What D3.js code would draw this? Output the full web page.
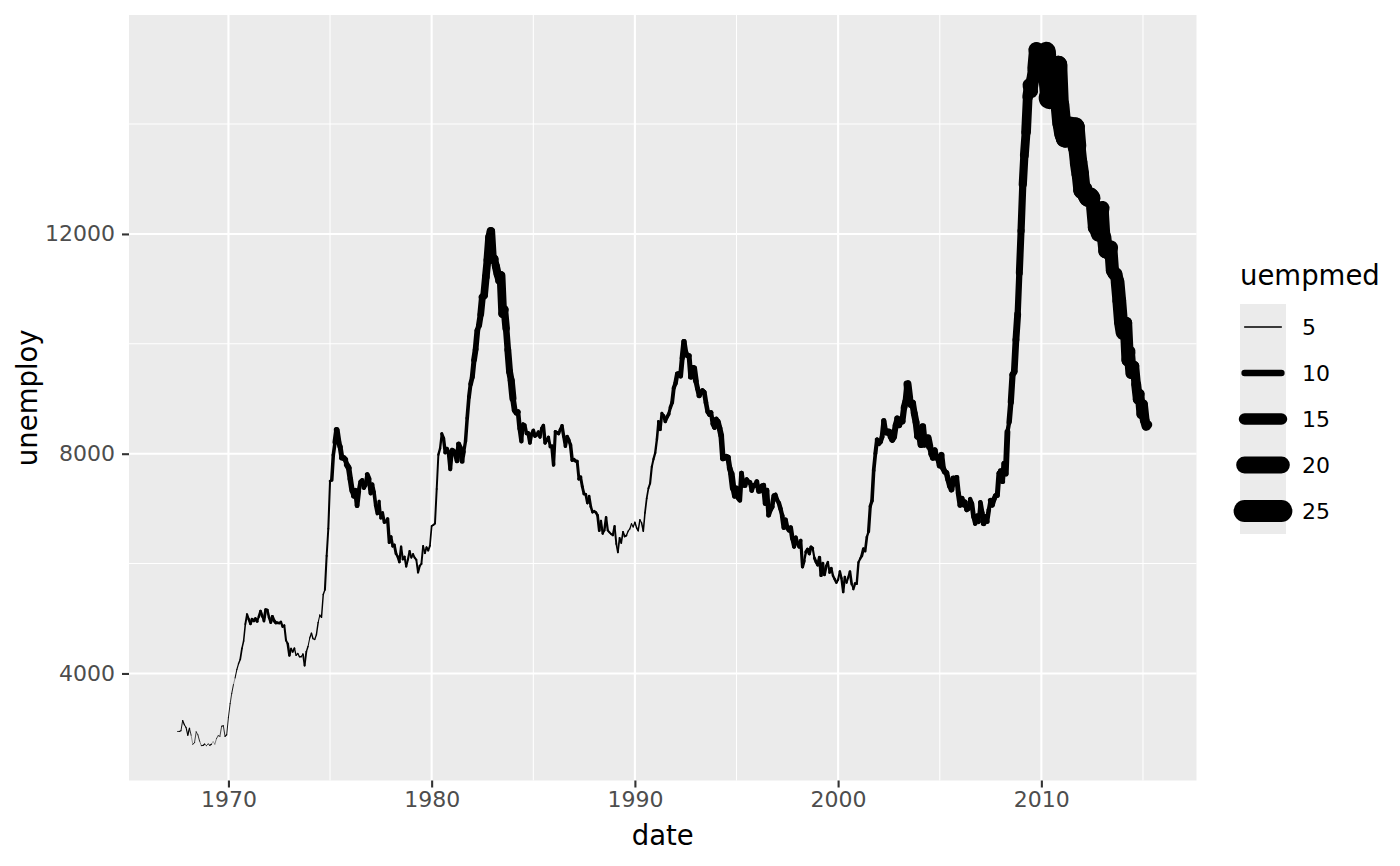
<!DOCTYPE html>
<html>
<head>
<meta charset="utf-8">
<script src="https://cdn.jsdelivr.net/npm/d3@7"></script>
<style>
  body { margin: 0; background: #ffffff; }
  svg { display: block; font-family: "DejaVu Sans", sans-serif; }
</style>
</head>
<body>
<svg id="svg1" width="1400" height="866"></svg>
<script>
// monthly series, 1967-07 .. 2015-04 (one row per year)
var unemploy = [
  2944, 2945, 2958, 3143, 3066, 3018,
  2878, 3001, 2877, 2709, 2740, 2938, 2883, 2768, 2686, 2689, 2715, 2685,
  2718, 2692, 2712, 2758, 2713, 2816, 2868, 2856, 3040, 3049, 2856, 2884,
  3201, 3453, 3635, 3797, 3919, 4071, 4175, 4256, 4456, 4591, 4898, 5076,
  4986, 4903, 4987, 4959, 4996, 4949, 5035, 5134, 5042, 4954, 5161, 5154,
  5019, 4928, 5038, 4959, 4922, 4923, 4913, 4939, 4849, 4875, 4602, 4543,
  4326, 4452, 4394, 4459, 4329, 4363, 4305, 4305, 4350, 4144, 4396, 4489,
  4644, 4731, 4634, 4618, 4705, 4927, 5063, 5022, 5437, 5523, 6140, 6636,
  7501, 7520, 7978, 8210, 8433, 8220, 8127, 7928, 7923, 7897, 7794, 7744,
  7534, 7326, 7230, 7330, 7053, 7322, 7490, 7518, 7380, 7430, 7620, 7545,
  7280, 7443, 7307, 7059, 6911, 7134, 6829, 6925, 6751, 6763, 6815, 6386,
  6489, 6318, 6337, 6180, 6127, 6028, 6309, 6080, 6125, 5947, 6077, 6228,
  6109, 6173, 6109, 6069, 5840, 5959, 5996, 6320, 6190, 6296, 6238, 6325,
  6683, 6702, 6729, 7358, 7984, 8098, 8363, 8281, 8021, 8088, 8023, 7718,
  8071, 8051, 7982, 7869, 8174, 8098, 7863, 8036, 8230, 8646, 9029, 9267,
  9397, 9705, 9895, 10244, 10335, 10538, 10849, 10881, 11217, 11529, 11938, 12051,
  11534, 11545, 11408, 11268, 11154, 11246, 10548, 10623, 10282, 9887, 9499, 9331,
  9008, 8791, 8746, 8762, 8456, 8226, 8537, 8519, 8367, 8381, 8198, 8358,
  8423, 8321, 8339, 8395, 8302, 8460, 8513, 8196, 8248, 8298, 8128, 8138,
  7795, 8402, 8383, 8364, 8439, 8508, 8319, 8135, 8310, 8243, 8159, 7883,
  7892, 7865, 7862, 7542, 7574, 7398, 7268, 7261, 7102, 7227, 7035, 6936,
  6953, 6929, 6876, 6601, 6779, 6546, 6605, 6843, 6604, 6568, 6537, 6518,
  6682, 6359, 6205, 6468, 6375, 6577, 6495, 6511, 6590, 6630, 6725, 6667,
  6752, 6651, 6598, 6797, 6742, 6590, 6922, 7188, 7368, 7459, 7764, 7901,
  8015, 8265, 8586, 8439, 8736, 8692, 8586, 8666, 8722, 8842, 8931, 9198,
  9283, 9454, 9460, 9415, 9744, 10040, 9850, 9787, 9781, 9398, 9565, 9557,
  9325, 9183, 9056, 9110, 9149, 9121, 8930, 8763, 8714, 8750, 8542, 8477,
  8630, 8583, 8470, 8331, 7915, 7927, 7946, 7933, 7734, 7632, 7375, 7230,
  7375, 7187, 7153, 7645, 7430, 7427, 7527, 7484, 7478, 7328, 7426, 7423,
  7491, 7313, 7318, 7415, 7423, 7095, 7337, 6882, 6979, 7031, 7236, 7253,
  7158, 7102, 7000, 6873, 6655, 6799, 6655, 6608, 6656, 6454, 6308, 6476,
  6368, 6306, 6422, 5941, 6047, 6212, 6259, 6179, 6300, 6280, 6100, 6032,
  5976, 6111, 5783, 6004, 5796, 5951, 6025, 5838, 5915, 5778, 5716, 5653,
  5708, 5858, 5733, 5481, 5758, 5651, 5747, 5853, 5625, 5534, 5639, 5634,
  6023, 6089, 6141, 6271, 6226, 6484, 6583, 7042, 7142, 7694, 8003, 8258,
  8182, 8215, 8304, 8599, 8399, 8393, 8390, 8304, 8251, 8307, 8520, 8640,
  8520, 8618, 8588, 8842, 8957, 9266, 9011, 8896, 8921, 8732, 8576, 8317,
  8370, 8167, 8491, 8170, 8212, 8286, 8136, 7990, 7927, 8061, 7932, 7934,
  7784, 7980, 7737, 7672, 7651, 7524, 7406, 7345, 7553, 7453, 7566, 7279,
  7064, 7184, 7072, 7120, 6980, 7001, 7175, 7091, 6847, 6727, 6872, 6762,
  7116, 6927, 6731, 6850, 6766, 6979, 7149, 7067, 7170, 7237, 7240, 7645,
  7685, 7497, 7822, 7637, 8395, 8575, 8937, 9438, 9494, 10074, 10538, 11286,
  12058, 12898, 13426, 13853, 14499, 14707, 14601, 14814, 15009, 15352, 15219, 15098,
  15046, 15113, 15202, 15325, 14849, 14474, 14512, 14648, 14579, 14516, 15081, 14348,
  14013, 13820, 13737, 13957, 13855, 13962, 13763, 13818, 13948, 13594, 13302, 13093,
  12797, 12813, 12713, 12646, 12660, 12692, 12656, 12471, 12115, 12124, 12005, 12298,
  12471, 11950, 11689, 11760, 11654, 11751, 11335, 11279, 11270, 11136, 10787, 10404,
  10202, 10349, 10380, 9702, 9859, 9460, 9608, 9599, 9262, 8990, 9090, 8717,
  8903, 8610, 8504, 8526
];

var uempmed = [
  4.5, 4.7, 4.6, 4.9, 4.7, 4.8,
  5.1, 4.5, 4.1, 4.6, 4.4, 4.4, 4.5, 4.2, 4.6, 4.8, 4.4, 4.4,
  4.4, 4.9, 4.0, 4.0, 4.2, 4.4, 4.4, 4.4, 4.7, 4.5, 4.8, 4.6,
  4.6, 4.5, 4.6, 4.1, 4.7, 4.9, 5.1, 5.4, 5.2, 5.2, 5.6, 5.9,
  6.2, 6.3, 6.4, 6.5, 6.7, 5.7, 6.2, 6.4, 5.8, 6.5, 6.4, 6.2,
  6.2, 6.6, 6.6, 6.7, 6.6, 5.4, 6.1, 6.0, 5.6, 5.7, 5.7, 6.1,
  5.7, 5.2, 5.5, 5.0, 4.9, 5.0, 5.2, 4.9, 5.4, 5.5, 5.1, 4.7,
  5.0, 5.1, 4.8, 5.0, 5.1, 4.7, 5.0, 5.1, 5.1, 5.7, 5.6, 5.7,
  6.3, 7.1, 7.2, 8.7, 9.4, 8.8, 8.6, 9.2, 9.2, 8.6, 9.5, 9.0,
  9.0, 8.2, 8.7, 8.2, 8.3, 7.8, 7.7, 7.9, 7.8, 7.7, 8.4, 8.0,
  7.5, 7.2, 7.2, 7.3, 6.7, 6.5, 6.6, 6.8, 6.6, 6.8, 6.9, 6.6,
  6.5, 6.5, 6.5, 6.0, 6.2, 6.0, 5.8, 6.1, 5.7, 5.8, 5.8, 5.7,
  5.5, 5.6, 5.7, 5.6, 5.9, 5.6, 5.6, 5.4, 5.6, 5.6, 5.6, 5.4,
  5.4, 5.5, 5.6, 5.6, 6.0, 6.0, 6.9, 7.0, 7.5, 7.7, 7.5, 7.5,
  7.7, 8.2, 8.0, 8.3, 8.6, 8.5, 7.7, 6.9, 7.1, 7.3, 7.6, 8.3,
  8.6, 9.3, 9.3, 8.9, 9.6, 10.3, 10.8, 11.1, 11.2, 11.5, 11.5, 11.9,
  12.0, 11.2, 11.6, 11.3, 11.4, 12.2, 12.1, 11.0, 10.1, 10.4, 10.3, 10.6,
  9.3, 8.9, 9.0, 8.2, 7.9, 7.4, 7.2, 7.2, 7.1, 7.3, 7.1, 7.0,
  7.3, 7.2, 6.8, 6.8, 6.9, 6.9, 7.1, 6.9, 6.9, 6.6, 6.9, 7.1,
  6.7, 6.9, 6.8, 6.7, 6.8, 7.0, 6.9, 7.1, 7.4, 7.0, 7.1, 7.1,
  6.9, 6.6, 6.6, 7.1, 6.6, 6.5, 6.5, 6.4, 6.0, 6.3, 6.2, 6.0,
  6.2, 6.3, 6.4, 5.9, 5.9, 5.8, 6.1, 5.9, 5.7, 5.6, 5.7, 5.9,
  5.6, 5.4, 5.4, 5.4, 5.3, 5.4, 5.6, 5.0, 4.9, 4.9, 4.8, 4.9,
  5.1, 5.3, 5.1, 4.8, 5.2, 5.2, 5.4, 5.4, 5.6, 5.8, 5.7, 5.9,
  6.0, 6.2, 6.7, 6.6, 6.4, 6.9, 7.0, 7.3, 6.8, 7.2, 7.5, 7.8,
  8.1, 8.2, 8.3, 8.5, 8.8, 8.7, 8.6, 8.8, 8.6, 9.0, 9.0, 9.3,
  8.6, 8.5, 8.5, 8.4, 8.1, 8.3, 8.2, 8.2, 8.3, 8.0, 8.3, 8.3,
  8.6, 9.2, 9.3, 9.1, 9.2, 9.3, 9.0, 8.9, 9.2, 10.0, 9.0, 8.7,
  8.0, 8.1, 8.3, 8.3, 9.1, 7.9, 8.5, 8.3, 7.9, 8.2, 8.0, 8.3,
  8.3, 7.8, 8.3, 8.6, 8.6, 8.3, 8.3, 8.4, 8.5, 8.3, 7.7, 7.8,
  7.8, 8.1, 7.9, 8.3, 8.0, 8.0, 8.3, 7.8, 8.2, 7.7, 7.6, 7.5,
  7.4, 7.0, 6.8, 6.7, 6.0, 6.9, 6.7, 6.8, 6.7, 5.8, 6.6, 6.8,
  6.9, 6.8, 6.8, 6.2, 6.5, 6.3, 5.8, 6.5, 6.0, 6.1, 6.2, 5.8,
  5.8, 6.1, 6.0, 6.1, 5.8, 5.7, 6.0, 6.3, 5.2, 6.1, 6.1, 6.0,
  5.8, 6.1, 6.6, 5.9, 6.3, 6.0, 6.8, 6.9, 7.2, 7.3, 7.7, 8.2,
  8.4, 8.3, 8.4, 8.9, 9.5, 11.0, 8.9, 9.0, 9.5, 9.6, 9.3, 9.6,
  9.6, 9.5, 9.7, 10.2, 9.9, 11.5, 10.3, 10.1, 10.2, 10.4, 10.3, 10.4,
  10.6, 10.2, 10.2, 9.5, 9.9, 11.0, 8.9, 9.2, 9.6, 9.5, 9.7, 9.5,
  9.4, 9.2, 9.3, 9.0, 9.1, 9.0, 8.8, 9.2, 8.4, 8.6, 8.5, 8.7,
  8.6, 9.1, 8.7, 8.4, 8.5, 7.3, 8.0, 8.4, 8.0, 7.9, 8.3, 7.5,
  8.3, 8.5, 9.1, 8.6, 8.2, 7.7, 8.7, 8.8, 8.7, 8.4, 8.6, 8.4,
  9.0, 8.7, 8.7, 9.4, 7.9, 9.0, 9.7, 9.7, 10.2, 10.4, 9.8, 10.5,
  10.7, 11.7, 12.3, 13.1, 14.2, 17.2, 16.0, 16.3, 17.8, 18.9, 19.8, 20.1,
  20.0, 19.9, 20.4, 22.1, 22.3, 25.2, 22.3, 21.0, 20.3, 21.2, 21.0, 21.9,
  21.5, 21.1, 21.5, 20.9, 21.6, 22.4, 22.0, 22.4, 22.0, 20.6, 20.8, 20.5,
  20.8, 19.7, 19.2, 19.1, 19.9, 20.1, 17.5, 18.5, 18.8, 19.7, 18.5, 17.6,
  15.9, 17.7, 18.0, 17.3, 17.8, 16.5, 16.5, 16.4, 16.3, 17.0, 17.1, 17.3,
  15.4, 15.9, 15.8, 15.7, 14.6, 13.8, 13.1, 12.9, 13.4, 13.6, 13.0, 12.9,
  13.2, 12.9, 12.0, 11.5
];

var xMajorYears = [1970, 1980, 1990, 2000, 2010];
var xMinorYears = [1965, 1975, 1985, 1995, 2005, 2015];
var yMajorTicks = [4000, 8000, 12000];
var yMinorTicks = [2000, 6000, 10000, 14000, 16000];
var legendBreaks = [5, 10, 15, 20, 25];

// months from 1967-07 to 2015-04
var dates = d3.utcMonth.range(new Date(Date.UTC(1967, 6, 1)), new Date(Date.UTC(2015, 4, 1)));

var data = dates.map(function(d, i) {
    return {date: d, unemploy: unemploy[i], uempmed: uempmed[i]};
});

var panelLeft = 129, panelRight = 1196.5, panelTop = 15, panelBottom = 780.5;

var svg = d3.select('#svg1');

// ggplot style 5% expansion
function expand(ext) {
    var pad = (ext[1] - ext[0]) * 0.05;
    return [ext[0] - pad, ext[1] + pad];
}

var xExt = d3.extent(dates, function(d) { return +d; });
var xScale = d3.scaleUtc()
    .domain(expand(xExt).map(function(v) { return new Date(v); }))
    .range([panelLeft, panelRight]);

var yScale = d3.scaleLinear()
    .domain(expand(d3.extent(unemploy)))
    .range([panelBottom, panelTop]);

var widthScale = d3.scaleLinear()
    .domain(d3.extent(uempmed))
    .range([0.3, 22.2]);

function yearDate(y) { return new Date(Date.UTC(y, 0, 1)); }

// panel background
svg.append('rect')
    .attr('x', panelLeft)
    .attr('y', panelTop)
    .attr('width', panelRight - panelLeft)
    .attr('height', panelBottom - panelTop)
    .attr('fill', '#ebebeb');

var grid = svg.append('g');

function inX(y) { var v = xScale(yearDate(y)); return v >= panelLeft && v <= panelRight; }
function inY(t) { var v = yScale(t); return v >= panelTop && v <= panelBottom; }

// minor grid
grid.selectAll('.xminor')
    .data(xMinorYears.filter(inX))
    .enter().append('line')
    .attr('x1', function(d) { return xScale(yearDate(d)); })
    .attr('x2', function(d) { return xScale(yearDate(d)); })
    .attr('y1', panelTop).attr('y2', panelBottom)
    .attr('stroke', 'white').attr('stroke-width', 1.05);

grid.selectAll('.yminor')
    .data(yMinorTicks.filter(inY))
    .enter().append('line')
    .attr('y1', function(d) { return yScale(d); })
    .attr('y2', function(d) { return yScale(d); })
    .attr('x1', panelLeft).attr('x2', panelRight)
    .attr('stroke', 'white').attr('stroke-width', 1.05);

// major grid
grid.selectAll('.xmajor')
    .data(xMajorYears)
    .enter().append('line')
    .attr('x1', function(d) { return xScale(yearDate(d)); })
    .attr('x2', function(d) { return xScale(yearDate(d)); })
    .attr('y1', panelTop).attr('y2', panelBottom)
    .attr('stroke', 'white').attr('stroke-width', 2.1);

grid.selectAll('.ymajor')
    .data(yMajorTicks)
    .enter().append('line')
    .attr('y1', function(d) { return yScale(d); })
    .attr('y2', function(d) { return yScale(d); })
    .attr('x1', panelLeft).attr('x2', panelRight)
    .attr('stroke', 'white').attr('stroke-width', 2.1);

// the line, drawn segment by segment so the width can vary
svg.append('g')
    .selectAll('line')
    .data(d3.pairs(data))
    .enter().append('line')
    .attr('x1', function(p) { return xScale(p[0].date); })
    .attr('y1', function(p) { return yScale(p[0].unemploy); })
    .attr('x2', function(p) { return xScale(p[1].date); })
    .attr('y2', function(p) { return yScale(p[1].unemploy); })
    .attr('stroke', 'black')
    .attr('stroke-linecap', 'round')
    .attr('stroke-width', function(p) { return widthScale(p[0].uempmed); });

// axes
var xAxis = d3.axisBottom(xScale)
    .tickValues(xMajorYears.map(yearDate))
    .tickFormat(d3.utcFormat('%Y'))
    .tickSize(7)
    .tickPadding(4);

var gx = svg.append('g')
    .attr('transform', 'translate(0,' + panelBottom + ')')
    .call(xAxis);
gx.select('.domain').remove();
gx.selectAll('line').attr('stroke', '#333333').attr('stroke-width', 2.1);
gx.selectAll('text')
    .attr('fill', '#4d4d4d')
    .style('font-size', '22px')
    .style('font-family', '"DejaVu Sans", sans-serif');

var yAxis = d3.axisLeft(yScale)
    .tickValues(yMajorTicks)
    .tickFormat(d3.format('d'))
    .tickSize(7)
    .tickPadding(7);

var gy = svg.append('g')
    .attr('transform', 'translate(' + panelLeft + ',0)')
    .call(yAxis);
gy.select('.domain').remove();
gy.selectAll('line').attr('stroke', '#333333').attr('stroke-width', 2.1);
gy.selectAll('text')
    .attr('fill', '#4d4d4d')
    .style('font-size', '22px')
    .style('font-family', '"DejaVu Sans", sans-serif');

// axis titles
svg.append('text')
    .attr('x', (panelLeft + panelRight) / 2)
    .attr('y', 845)
    .attr('text-anchor', 'middle')
    .style('font-size', '27.5px')
    .text('date');

svg.append('text')
    .attr('transform', 'translate(37,' + ((panelTop + panelBottom) / 2) + ') rotate(-90)')
    .attr('text-anchor', 'middle')
    .style('font-size', '27.5px')
    .text('unemploy');

// legend
var legend = svg.append('g').attr('transform', 'translate(1240,0)');

legend.append('text')
    .attr('x', 0)
    .attr('y', 285)
    .style('font-size', '27.5px')
    .text('uempmed');

var keyTop = 304, keyH = 46, keyW = 46;

legend.append('rect')
    .attr('x', 0).attr('y', keyTop)
    .attr('width', keyW).attr('height', keyH * legendBreaks.length)
    .attr('fill', '#ebebeb');

var keys = legend.selectAll('.key')
    .data(legendBreaks)
    .enter().append('g')
    .attr('transform', function(d, i) { return 'translate(0,' + (keyTop + keyH * i + keyH / 2) + ')'; });

keys.append('line')
    .attr('x1', keyW * 0.1).attr('x2', keyW * 0.9)
    .attr('y1', 0).attr('y2', 0)
    .attr('stroke', 'black')
    .attr('stroke-linecap', 'round')
    .attr('stroke-width', function(d) { return widthScale(d); });

keys.append('text')
    .attr('x', 62)
    .attr('dy', '0.36em')
    .style('font-size', '22px')
    .text(function(d) { return d; });
</script>
</body>
</html>
